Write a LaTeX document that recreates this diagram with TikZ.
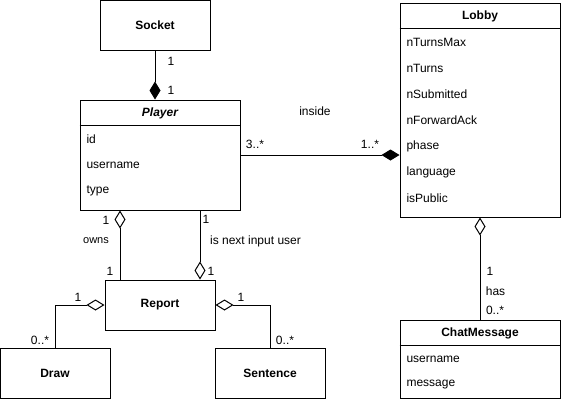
\documentclass[tikz,border=0pt]{standalone}
\usepackage{fontspec}
\setmainfont{Liberation Sans}
\usetikzlibrary{arrows.meta}
\usetikzlibrary{positioning}

\begin{document}
\begin{tikzpicture}[x=1pt, y=-1pt, line width=1pt,
    every node/.style={font=\fontsize{12}{14}\selectfont, inner sep=0pt},
    cls/.style={draw, fill=white, minimum width=110pt, minimum height=50pt},
    title/.style={font=\fontsize{12}{14}\selectfont\bfseries},
    attr/.style={anchor=west},
    comp/.style={arrows={Diamond[length=18pt,width=11pt]-}},
    agg/.style={arrows={Diamond[open,length=18pt,width=11pt]-}}]

    \useasboundingbox (0,0) rectangle (562,402);

    % simple classes
    \node [cls, title] (socket)   at (155,25)  {Socket};
    \node [cls, title] (report)   at (160,305) {Report};
    \node [cls, title] (draw)     at (55,373)  {Draw};
    \node [cls, title] (sentence) at (270,373) {Sentence};

    % Player
    \node [cls, minimum width=160pt, minimum height=110pt] (player) at (160,155) {};
    \draw (player.north west) ++(0,26) -- ++(160,0);
    \node [title, font=\fontsize{12}{14}\selectfont\bfseries\itshape] (playerT) at (160,113) {Player};
    \node [attr] (pid)   at (86,139) {id};
    \node [attr] (puser) at (86,165) {username};
    \node [attr] (ptype) at (86,191) {type};

    % Lobby
    \node [cls, minimum width=160pt, minimum height=214pt] (lobby) at (480,110) {};
    \draw (lobby.north west) ++(0,26) -- ++(160,0);
    \node [title] (lobbyT) at (480,16) {Lobby};
    \node [attr] (lmax)  at (406,42)  {nTurnsMax};
    \node [attr] (lturn) at (406,68)  {nTurns};
    \node [attr] (lsub)  at (406,94)  {nSubmitted};
    \node [attr] (lack)  at (406,120) {nForwardAck};
    \node [attr] (lpha)  at (406,146) {phase};
    \node [attr] (llang) at (406,172) {language};
    \node [attr] (lpub)  at (406,198) {isPublic};

    % ChatMessage
    \node [cls, minimum width=160pt, minimum height=78pt] (chat) at (480,359) {};
    \draw (chat.north west) ++(0,26) -- ++(160,0);
    \node [title] (chatT) at (480,333) {ChatMessage};
    \node [attr] (cuser) at (406,359) {username};
    \node [attr] (cmsg)  at (406,385) {message};

    % connectors
    \draw [comp] (socket.south |- player.north) -- (socket.south);
    \draw [comp] (player.east -| lobby.west) -- (player.east);
    \draw [agg] ([xshift=-40pt]player.south) -- ([xshift=-40pt]player.south |- report.north);
    \draw [agg] ([xshift=40pt]player.south |- report.north) -- ([xshift=40pt]player.south);
    \draw [agg] (report.west) -| (draw.north);
    \draw [agg] (report.east) -| (sentence.north);
    \draw [agg] (lobby.south) -- (chat.north);

    % labels
    \node (m1) at (171,61)  {1};
    \node (m2) at (171,90)  {1};
    \node (m3) at (255,144) {3..*};
    \node (m4) at (370,144) {1..*};
    \node (lin) at (315,111) {inside};
    \node (m5) at (106,220) {1};
    \node [font=\fontsize{11}{13}\selectfont] (lown) at (96,241) {owns};
    \node (m6) at (110,271) {1};
    \node (m7) at (206,219) {1};
    \node (lnext) at (255.5,241) {is next input user};
    \node (m8) at (211,271) {1};
    \node (m9) at (78,297)   {1};
    \node (m10) at (40,340)  {0..*};
    \node (m11) at (241,297) {1};
    \node (m12) at (285,340) {0..*};
    \node (m13) at (490,271) {1};
    \node (lhas) at (495.5,291) {has};
    \node (m14) at (495,310) {0..*};

\end{tikzpicture}
\end{document}
